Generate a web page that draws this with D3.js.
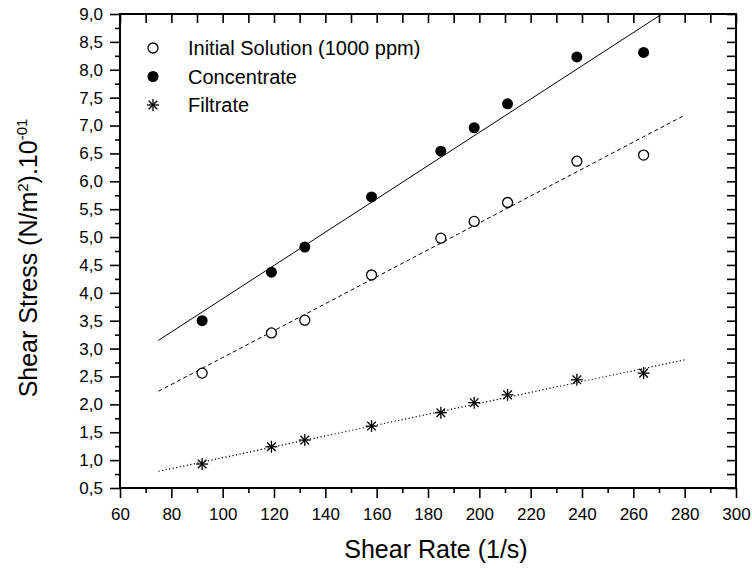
<!DOCTYPE html>
<html>
<head>
<meta charset="utf-8">
<script src="https://cdn.jsdelivr.net/npm/d3@7"></script>
<style>
  body { margin: 0; background: #fff; }
  text { font-family: "Liberation Sans", Arial, sans-serif; fill: #000; }
</style>
</head>
<body>
<script>
(function(){

//chart data
var shearRate = [92, 119, 132, 158, 185, 198, 211, 238, 264];
var initialStress = [2.56, 3.28, 3.51, 4.32, 4.98, 5.28, 5.62, 6.36, 6.47];
var concentrateStress = [3.50, 4.37, 4.82, 5.72, 6.54, 6.96, 7.39, 8.23, 8.31];
var filtrateStress = [0.93, 1.24, 1.36, 1.61, 1.85, 2.03, 2.17, 2.44, 2.56];
var seriesNames = ["Initial Solution (1000 ppm)", "Concentrate", "Filtrate"];
var fitRange = [75, 280];

var xMajor = d3.range(60, 301, 20);
var xMinor = d3.range(70, 300, 20);
var yMajor = d3.range(0.5, 9.01, 0.5);
var yMinor = d3.range(0.75, 9, 0.5);

window.onload = drawChart();

function drawChart(){

    //frame dimensions
    var width = 752,
        height = 569,
        margin = {left: 120, top: 14, right: 16, bottom: 81};

    var svg = d3.select("body")
        .append("svg")
        .attr("width", width)
        .attr("height", height);

    var x = d3.scaleLinear()
        .domain([60, 300])
        .range([margin.left, width - margin.right]);

    var y = d3.scaleLinear()
        .domain([0.5, 9.0])
        .range([height - margin.bottom, margin.top]);

    //comma decimal ticks
    var fmt = d3.formatLocale({decimal: ",", thousands: ".", grouping: [3], currency: ["", ""]}).format(".1f");

    var plotW = x.range()[1] - x.range()[0],
        plotH = y.range()[0] - y.range()[1];

    svg.append("clipPath")
        .attr("id", "plotClip")
        .append("rect")
        .attr("x", margin.left)
        .attr("y", margin.top)
        .attr("width", plotW)
        .attr("height", plotH);

    //axes: outward on left/bottom, inward on top/right
    var bottomY = y.range()[0], topY = y.range()[1];
    var leftX = x.range()[0], rightX = x.range()[1];

    addAxis(d3.axisBottom(x).tickValues(xMajor).tickSize(10).tickPadding(10).tickFormat(d3.format("d")), "translate(0," + bottomY + ")", true);
    addAxis(d3.axisBottom(x).tickValues(xMinor).tickSize(5).tickFormat(""), "translate(0," + bottomY + ")", false);
    addAxis(d3.axisLeft(y).tickValues(yMajor).tickSize(10).tickPadding(7).tickFormat(fmt), "translate(" + leftX + ",0)", true);
    addAxis(d3.axisLeft(y).tickValues(yMinor).tickSize(5).tickFormat(""), "translate(" + leftX + ",0)", false);
    addAxis(d3.axisTop(x).tickValues(xMajor.concat(xMinor)).tickSize(-9).tickFormat(""), "translate(0," + topY + ")", false);
    addAxis(d3.axisRight(y).tickValues(yMajor.concat(yMinor)).tickSize(-9).tickFormat(""), "translate(" + rightX + ",0)", false);

    function addAxis(axis, transform, labels){
        var g = svg.append("g")
            .attr("transform", transform)
            .call(axis);
        g.select(".domain").remove();
        g.selectAll(".tick line")
            .attr("stroke", "#000")
            .attr("stroke-width", 1.6);
        if (labels){
            g.selectAll(".tick text")
                .style("font-size", "17px")
                .style("font-family", "Liberation Sans, Arial, sans-serif");
        };
    };

    //plot frame
    svg.append("rect")
        .attr("x", leftX)
        .attr("y", topY)
        .attr("width", plotW)
        .attr("height", plotH)
        .attr("fill", "none")
        .attr("stroke", "#000")
        .attr("stroke-width", 2);

    //series definitions
    var series = [
        {name: seriesNames[0], values: initialStress, marker: "open", dash: "4,3"},
        {name: seriesNames[1], values: concentrateStress, marker: "filled", dash: null},
        {name: seriesNames[2], values: filtrateStress, marker: "star", dash: "1.2,2.4"}
    ];

    //linear fit lines
    var line = d3.line()
        .x(function(d){ return x(d[0]); })
        .y(function(d){ return y(d[1]); });

    series.forEach(function(s){
        var fit = linearFit(shearRate, s.values);
        var pts = fitRange.map(function(r){ return [r, fit.a + fit.b * r]; });
        svg.append("path")
            .datum(pts)
            .attr("clip-path", "url(#plotClip)")
            .attr("d", line)
            .attr("fill", "none")
            .attr("stroke", "#000")
            .attr("stroke-width", s.marker == "star" ? 1.2 : 1)
            .attr("stroke-dasharray", s.dash);
    });

    //markers
    series.forEach(function(s){
        var pts = shearRate.map(function(r, i){ return [r, s.values[i]]; });
        pts.forEach(function(p){
            drawMarker(svg, s.marker, x(p[0]), y(p[1]));
        });
    });

    //legend
    var legendX = 153, legendY = 48, legendStep = 28.5;
    series.forEach(function(s, i){
        drawMarker(svg, s.marker, legendX, legendY + i * legendStep);
        svg.append("text")
            .attr("x", 188)
            .attr("y", legendY + i * legendStep)
            .attr("dy", "0.36em")
            .style("font-size", "20px")
            .text(s.name);
    });

    //axis titles
    svg.append("text")
        .attr("x", 436)
        .attr("y", 558)
        .attr("text-anchor", "middle")
        .style("font-size", "25px")
        .text("Shear Rate (1/s)");

    var yTitle = svg.append("text")
        .attr("transform", "translate(37,258) rotate(-90)")
        .attr("text-anchor", "middle")
        .style("font-size", "25px");
    yTitle.append("tspan").text("Shear Stress (N/m");
    yTitle.append("tspan").attr("dy", -9).style("font-size", "15px").text("2");
    yTitle.append("tspan").attr("dy", 9).text(").10");
    yTitle.append("tspan").attr("dy", -10).style("font-size", "15px").text("-01");
};

function linearFit(xs, ys){
    //least squares slope and intercept
    var mx = d3.mean(xs), my = d3.mean(ys);
    var sxy = 0, sxx = 0;
    for (var i=0; i<xs.length; i++){
        sxy += (xs[i] - mx) * (ys[i] - my);
        sxx += (xs[i] - mx) * (xs[i] - mx);
    };
    var b = sxy / sxx;
    return {a: my - b * mx, b: b};
};

function drawMarker(svg, type, cx, cy){
    if (type == "open"){
        svg.append("circle")
            .attr("cx", cx).attr("cy", cy).attr("r", 5)
            .attr("fill", "#fff")
            .attr("stroke", "#000")
            .attr("stroke-width", 1.3);
    } else if (type == "filled"){
        svg.append("circle")
            .attr("cx", cx).attr("cy", cy).attr("r", 5.5)
            .attr("fill", "#000");
    } else {
        var r = 6, d = 4.3;
        var segs = [[0, -r, 0, r], [-r, 0, r, 0], [-d, -d, d, d], [-d, d, d, -d]];
        segs.forEach(function(s){
            svg.append("line")
                .attr("x1", cx + s[0]).attr("y1", cy + s[1])
                .attr("x2", cx + s[2]).attr("y2", cy + s[3])
                .attr("stroke", "#000")
                .attr("stroke-width", 1.3);
        });
    };
};

})();
</script>
</body>
</html>
